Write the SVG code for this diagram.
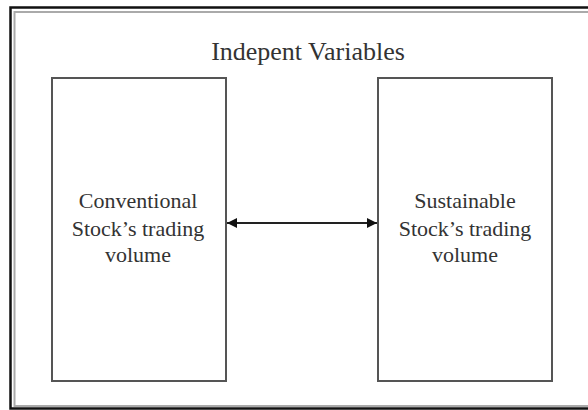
<svg xmlns="http://www.w3.org/2000/svg" width="588" height="410" viewBox="0 0 588 410">
<style>
.box{fill:#fff;stroke:#555;stroke-width:2}
.lbl{font-family:"Liberation Serif","Times New Roman",serif;font-size:22px;fill:#333;text-anchor:middle}
.title{font-family:"Liberation Serif","Times New Roman",serif;font-size:26px;fill:#333;text-anchor:middle}
.conn{stroke:#222;stroke-width:2;fill:none}
</style>
<defs>
<marker id="ah" viewBox="0 0 10 10" refX="10" refY="5" markerWidth="5" markerHeight="5" orient="auto-start-reverse" markerUnits="strokeWidth">
<path d="M0,0 L10,5 L0,10 z" fill="#111"/>
</marker>
</defs>
<rect width="588" height="410" fill="#fff"/>
<g id="frame">
<rect x="10.5" y="7.5" width="590" height="401" fill="none" stroke="#111" stroke-width="2.5"/>
<rect x="14.5" y="12" width="590" height="394" fill="none" stroke="#aaa" stroke-width="2"/>
<text class="title" x="308" y="60">Indepent Variables</text>
</g>
<g id="left">
<rect class="box" x="52" y="78" width="174" height="303"/>
<text class="lbl" x="138" y="208">Conventional</text>
<text class="lbl" x="138" y="236">Stock’s trading</text>
<text class="lbl" x="138" y="262">volume</text>
</g>
<g id="right">
<rect class="box" x="378" y="78" width="174" height="303"/>
<text class="lbl" x="465" y="208">Sustainable</text>
<text class="lbl" x="465" y="236">Stock’s trading</text>
<text class="lbl" x="465" y="262">volume</text>
</g>
<g id="connectors">
<line class="conn" x1="227" y1="223" x2="377" y2="223" marker-start="url(#ah)" marker-end="url(#ah)"/>
</g>
</svg>
